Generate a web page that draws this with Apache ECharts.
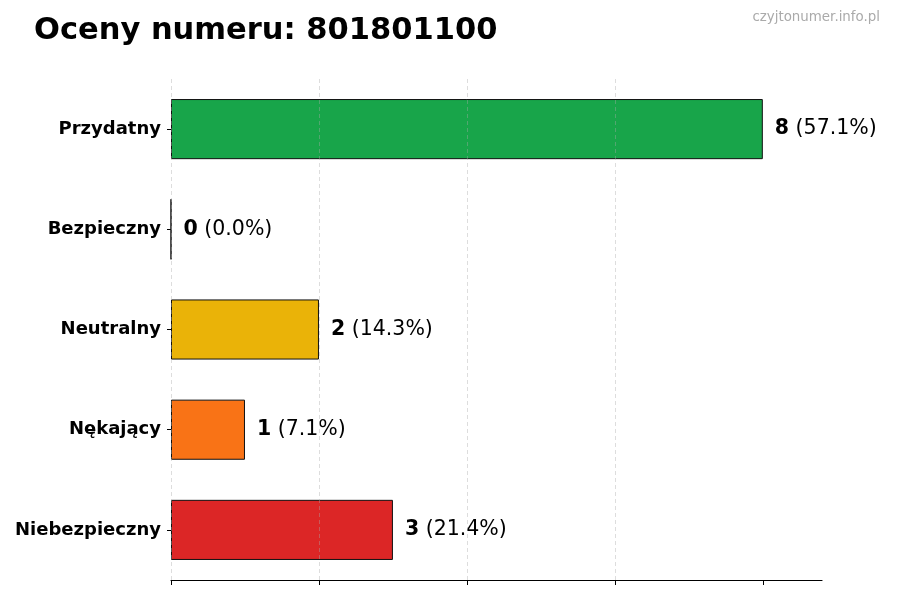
<!DOCTYPE html>
<html>
<head>
    <meta charset="UTF-8"/>
    <title>Oceny numeru: 801801100</title>
    <style>
        html, body { margin: 0; padding: 0; background: #fff; }
        #chart { width: 900px; height: 600px; }
    </style>
</head>
<body>
<div id="chart"></div>
<script src="https://cdn.jsdelivr.net/npm/echarts@6/dist/echarts.min.js"></script>
<script>
    // dane (od góry do dołu)
    const categories = ["Przydatny", "Bezpieczny", "Neutralny", "Nękający", "Niebezpieczny"];
    const counts = [8, 0, 2, 1, 3];
    const barColors = ["#18a54a", "#16a34a", "#eab308", "#f97316", "#dc2626"];
    const xTicks = [0, 2, 4, 6, 8];

    const total = counts.reduce(function (a, b) { return a + b; }, 0);

    const chart = echarts.init(document.getElementById("chart"));
    chart.setOption({
        animation: false,
        title: [{
            text: "Oceny numeru: 801801100",
            left: 29,
            top: 11,
            textStyle: {fontFamily: "DejaVu Sans", fontWeight: "bold", fontSize: 30.5, color: "#000"}
        }, {
            text: "czyjtonumer.info.pl",
            right: 15,
            top: 6,
            textStyle: {fontFamily: "DejaVu Sans", fontWeight: "normal", fontSize: 13.4, color: "#aaa"}
        }],
        grid: {left: 171, right: 78, top: 79, bottom: 20},
        xAxis: {
            type: "value",
            min: xTicks[0],
            max: 8.8,
            interval: xTicks[1] - xTicks[0],
            z: 3,
            axisLabel: {show: false},
            axisLine: {show: true, onZero: false, lineStyle: {color: "#000", width: 1.2}},
            axisTick: {show: true, length: 5, customValues: xTicks, lineStyle: {color: "#000"}},
            splitLine: {
                show: true,
                showMaxLine: false,
                lineStyle: {color: "rgba(170,170,170,0.5)", type: [4, 3], width: 0.8}
            }
        },
        yAxis: {
            type: "category",
            inverse: true,
            data: categories,
            axisLine: {show: false},
            axisTick: {show: true, alignWithLabel: true, length: 4, lineStyle: {color: "#000"}},
            axisLabel: {
                margin: 10,
                fontFamily: "DejaVu Sans",
                fontWeight: "bold",
                fontSize: 18,
                color: "#000"
            }
        },
        series: [{
            type: "bar",
            barWidth: "60%",
            data: counts.map(function (v, i) {
                return {value: v, itemStyle: {color: barColors[i]}};
            }),
            itemStyle: {borderColor: "#111", borderWidth: 1},
            label: {
                show: true,
                position: "right",
                distance: 12,
                formatter: function (p) {
                    const pct = (p.value / total * 100).toFixed(1);
                    return "{b|" + p.value + "}{n| (" + pct + "%)}";
                },
                rich: {
                    b: {fontFamily: "DejaVu Sans", fontWeight: "bold", fontSize: 20.5, color: "#000"},
                    n: {fontFamily: "DejaVu Sans", fontWeight: "normal", fontSize: 20.5, color: "#000"}
                }
            }
        }]
    });
</script>
</body>
</html>
